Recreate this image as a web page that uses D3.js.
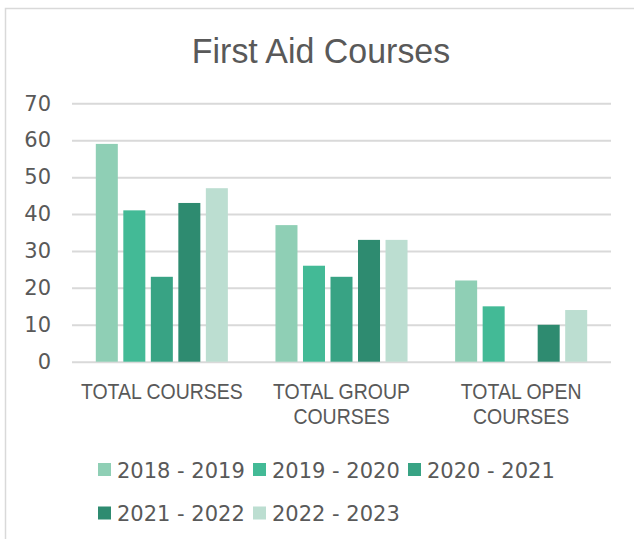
<!DOCTYPE html>
<meta charset="utf-8">
<script src="https://d3js.org/d3.v7.min.js"></script>
<style>
  body { margin: 0; background: #fff; }
</style>
<div id="my_dataviz"></div>
<script>

// Data
var categories = ["TOTAL COURSES", "TOTAL GROUP COURSES", "TOTAL OPEN COURSES"];
var seriesNames = ["2018 - 2019", "2019 - 2020", "2020 - 2021", "2021 - 2022", "2022 - 2023"];
var s2018 = [59, 37, 22];
var s2019 = [41, 26, 15];
var s2020 = [23, 23, 0];
var s2021 = [43, 33, 10];
var s2022 = [47, 33, 14];
var yTicks = [0, 10, 20, 30, 40, 50, 60, 70];
var colors = ["#8fcfb5", "#43ba96", "#38a384", "#2e8b70", "#bcded1"];

var seriesValues = [s2018, s2019, s2020, s2021, s2022];

// Size
var W = 634, H = 539;
var margin = { top: 103.3, right: 23, bottom: 177.3, left: 72 },
    width = W - margin.left - margin.right,
    height = H - margin.top - margin.bottom;

var textColor = "#595959";

var root = d3.select("#my_dataviz")
  .append("svg")
    .attr("width", W)
    .attr("height", H);

// chart frame (only top/left edges visible in the crop)
root.append("rect")
    .attr("x", 5.5)
    .attr("y", 8.5)
    .attr("width", W + 20)
    .attr("height", H + 20)
    .style("fill", "#fff")
    .style("stroke", "#d9d9d9")
    .style("stroke-width", 1.5);

// Title (condensed look via horizontal squeeze)
root.append("text")
    .attr("transform", "translate(321,62.5) scale(0.97,1)")
    .attr("text-anchor", "middle")
    .style("font-family", "'Liberation Sans', Arial, sans-serif")
    .style("font-size", "35px")
    .style("fill", textColor)
    .text("First Aid Courses");

var svg = root.append("g")
    .attr("transform", "translate(" + margin.left + "," + margin.top + ")");

// Scales
var x0 = d3.scaleBand()
    .domain(categories)
    .range([0, width])
    .paddingInner(0.265)
    .paddingOuter(0.1325);

var x1 = d3.scaleBand()
    .domain(seriesNames)
    .range([0, x0.bandwidth()])
    .paddingInner(0.2)
    .paddingOuter(0);

var y = d3.scaleLinear()
    .domain([0, 70])
    .range([height, 0]);

// Y axis + gridlines
var yAxis = svg.append("g")
    .call(d3.axisLeft(y).tickValues(yTicks).tickSize(-width).tickPadding(21));
yAxis.select(".domain").remove();
yAxis.selectAll(".tick line")
    .attr("stroke", "#d9d9d9")
    .attr("stroke-width", 2);
yAxis.selectAll(".tick text")
    .style("font-family", "'DejaVu Sans', sans-serif")
    .style("font-size", "21px")
    .style("fill", textColor);

// Bars
var groups = svg.append("g")
  .selectAll("g")
  .data(categories)
  .enter()
  .append("g")
    .attr("transform", function(d) { return "translate(" + x0(d) + ",0)"; });

groups.selectAll("rect")
  .data(function(d, i) {
    return seriesNames.map(function(s, j) {
      return { series: s, value: seriesValues[j][i], color: colors[j] };
    });
  })
  .enter()
  .filter(function(d) { return d.value > 0; })
  .append("rect")
    .attr("x", function(d) { return x1(d.series); })
    .attr("y", function(d) { return y(d.value); })
    .attr("width", x1.bandwidth())
    .attr("height", function(d) { return height - y(d.value); })
    .style("fill", function(d) { return d.color; });

// Category labels (wrap long ones in two lines)
function wrapLabel(s) {
  if (s.length <= 14) return [s];
  var k = s.lastIndexOf(" ");
  return [s.slice(0, k), s.slice(k + 1)];
}

var catLabels = svg.append("g")
  .selectAll("text")
  .data(categories)
  .enter()
  .append("text")
    .attr("text-anchor", "middle")
    .attr("transform", function(d) {
      return "translate(" + (x0(d) + x0.bandwidth() / 2) + "," + (height + 37.5) + ") scale(0.885,1)";
    })
    .style("font-family", "'Liberation Sans', Arial, sans-serif")
    .style("font-size", "22px")
    .style("fill", textColor);

catLabels.selectAll("tspan")
  .data(function(d) { return wrapLabel(d); })
  .enter()
  .append("tspan")
    .attr("x", 0)
    .attr("y", function(d, i) { return i * 25; })
    .text(function(d) { return d; });

// Legend
var legendRectSize = 13;
var legend = root.append("g")
    .attr("transform", "translate(98,463)");

var legends = legend.selectAll("g")
  .data(seriesNames)
  .enter()
  .append("g")
    .attr("transform", function(d, i) {
      return "translate(" + ((i % 3) * 155) + "," + (Math.floor(i / 3) * 43.5) + ")";
    });

legends.append("rect")
    .attr("width", legendRectSize)
    .attr("height", legendRectSize)
    .style("fill", function(d, i) { return colors[i]; });

legends.append("text")
    .attr("x", legendRectSize + 6)
    .attr("y", 14.5)
    .style("font-family", "'DejaVu Sans', sans-serif")
    .style("font-size", "21px")
    .style("fill", textColor)
    .text(function(d) { return d; });

</script>
